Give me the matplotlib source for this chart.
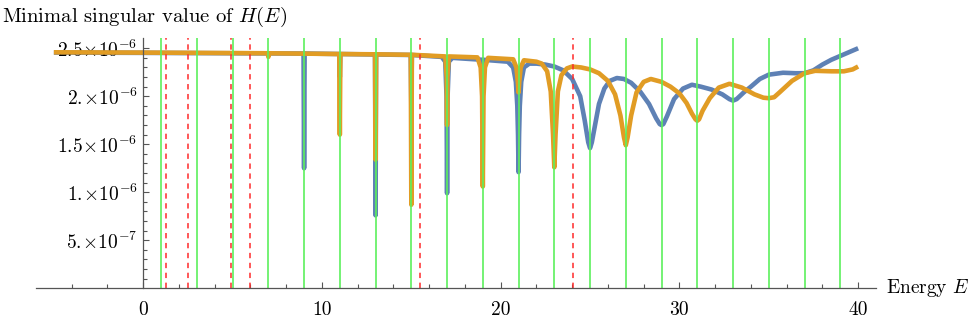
from matplotlib import pyplot as pl

# Minimal singular value of H(E) (units of 1e-6)
blue_E = [-5, 0, 5, 8.97, 9.0, 9.03, 10.97, 11.0, 11.03, 12.97, 13.0, 13.03,
          14.97, 15.0, 15.03, 16.7, 16.9, 16.97, 17.0, 17.03, 17.1, 17.3,
          18.97, 19.0, 19.03, 20.4, 20.7, 20.85, 20.93, 20.97, 21.0, 21.03,
          21.07, 21.15, 21.3, 21.6, 22.0, 22.5, 23.0, 23.5, 24.0, 24.45, 24.7,
          24.9, 25.0, 25.1, 25.3, 25.5, 25.8, 26.1, 26.5, 26.9, 27.3, 27.8,
          28.3, 28.7, 28.9, 29.0, 29.1, 29.3, 29.7, 30.2, 30.7, 31.2, 31.8,
          32.4, 32.8, 33.0, 33.2, 33.6, 34.0, 34.5, 35.0, 35.8, 36.5, 37.0,
          37.5, 38.0, 38.5, 39.0, 39.5, 40.0]
blue_sv = [2.455, 2.452, 2.448, 2.445, 1.25, 2.445, 2.44, 2.2, 2.44, 2.435,
           0.76, 2.435, 2.43, 1.9, 2.43, 2.41, 2.36, 2.0, 0.99, 2.0, 2.36, 2.40,
           2.38, 2.1, 2.38, 2.36, 2.30, 2.15, 1.9, 1.6, 1.21, 1.6,
           1.9, 2.15, 2.30, 2.34, 2.34, 2.33, 2.31, 2.27, 2.18, 2.0, 1.75,
           1.52, 1.46, 1.52, 1.72, 1.92, 2.08, 2.16, 2.19, 2.18, 2.14, 2.05,
           1.92, 1.77, 1.71, 1.70, 1.71, 1.79, 1.97, 2.08, 2.12, 2.10, 2.07,
           2.02, 1.97, 1.955, 1.97, 2.04, 2.10, 2.18, 2.225, 2.245, 2.24, 2.24,
           2.27, 2.33, 2.38, 2.42, 2.46, 2.50]

orange_E = [-5, 0, 5, 6.97, 7.0, 7.03, 10.97, 11.0, 11.03, 12.97, 13.0, 13.03,
            14.97, 15.0, 15.03, 16.9, 16.98, 17.0, 17.02, 17.1, 18.7, 18.88,
            18.96, 19.0, 19.04, 19.12, 19.3, 20.7, 20.88, 20.96, 21.0, 21.04,
            21.12, 21.3, 22.0, 22.3, 22.6, 22.8, 22.93, 23.0, 23.07, 23.2,
            23.4, 23.7, 24.0, 24.5, 25.0, 25.5, 26.0, 26.4, 26.7, 26.9, 27.0,
            27.1, 27.3, 27.6, 28.0, 28.4, 29.0, 29.5, 30.0, 30.4, 30.7, 30.9,
            31.0, 31.1, 31.3, 31.7, 32.2, 32.8, 33.5, 34.2, 34.7, 35.0, 35.3,
            35.6, 36.3, 37.0, 37.6, 38.5, 39.2, 39.7, 40.0]
orange_sv = [2.458, 2.455, 2.45, 2.448, 2.41, 2.448, 2.44, 1.60, 2.44, 2.437,
             1.34, 2.437, 2.432, 0.87, 2.432, 2.415, 2.2, 1.70, 2.2, 2.415,
             2.405, 2.3, 2.0, 1.06, 2.0, 2.3, 2.40, 2.385, 2.3, 2.15, 2.04,
             2.15, 2.3, 2.375, 2.36, 2.34, 2.26, 2.05, 1.6, 1.26, 1.6, 2.05,
             2.22, 2.29, 2.31, 2.30, 2.28, 2.24, 2.16, 2.02, 1.8, 1.57, 1.49,
             1.57, 1.8, 2.04, 2.15, 2.18, 2.15, 2.10, 2.03, 1.93, 1.82, 1.76,
             1.745, 1.76, 1.85, 1.98, 2.09, 2.13, 2.09, 2.02, 1.985, 1.98, 1.99,
             2.04, 2.16, 2.24, 2.265, 2.26, 2.26, 2.28, 2.31]

green_E = list(range(1, 40, 2))
red_E = [1.27, 2.51, 4.9, 5.98, 15.46, 24.03]

y_ticks = [5e-7, 1e-6, 1.5e-6, 2e-6, 2.5e-6]
y_labels = [r'$5.\!\!\times\!10^{-7}$', r'$1.\!\!\times\!10^{-6}$',
            r'$1.5\!\times\!10^{-6}$', r'$2.\!\!\times\!10^{-6}$',
            r'$2.5\!\times\!10^{-6}$']
x_ticks = [0, 10, 20, 30, 40]

pl.rcParams['mathtext.fontset'] = 'cm'
pl.rcParams['font.family'] = 'serif'
pl.rcParams['font.serif'] = ['cmr10', 'DejaVu Serif']
pl.rcParams['axes.unicode_minus'] = False

fig = pl.figure(figsize=(9.72, 3.22), dpi=100)
ax = fig.add_axes([36/972, 33.7/322, 840/972, 250.6/322])

ax.plot(blue_E, [v*1e-6 for v in blue_sv], color='#5E81B5', lw=3.3,
        solid_joinstyle='round', solid_capstyle='butt', clip_on=False,
        zorder=1.5)
ax.plot(orange_E, [v*1e-6 for v in orange_sv], color='#E19C24', lw=3.3,
        solid_joinstyle='round', solid_capstyle='butt', clip_on=False,
        zorder=1.6)

for e in green_E:
    ax.axvline(e, color='#5cf05c', lw=1.2, zorder=1.8)
for e in red_E:
    ax.axvline(e, color='#ff2a2a', lw=1.1, ls=(0, (3.5, 3)), zorder=1.8)

ax.set_xlim(-6, 41)
ax.set_ylim(0, 2.61e-6)

for s in ['top', 'right']:
    ax.spines[s].set_visible(False)
ax.spines['left'].set_position(('data', 0))
ax.spines['bottom'].set_position(('data', 0))
for s in ['left', 'bottom']:
    ax.spines[s].set_color('#555555')
    ax.spines[s].set_linewidth(0.9)

ax.set_xticks(x_ticks)
ax.set_xticklabels([str(t) for t in x_ticks])
ax.set_xticks([t for t in range(-4, 41, 2) if t % 10 != 0], minor=True)
ax.set_yticks(y_ticks)
ax.set_yticklabels(y_labels)
ax.set_yticks([k*1e-7 for k in range(1, 26) if k % 5 != 0], minor=True)

ax.tick_params(which='both', direction='in', color='#555555', width=0.8,
               labelsize=14)
ax.tick_params(which='major', length=4.5)
ax.tick_params(which='minor', length=3)
ax.tick_params(axis='x', pad=9)
ax.tick_params(axis='y', pad=4)

fig.text(0.002, 1 - 17/322, r'Minimal singular value of $H(E)$', fontsize=14.8,
         va='center', ha='left')
fig.text(886/972, 1 - 288/322, r'Energy $E$', fontsize=14, va='center',
         ha='left')

fig.savefig('out.png', dpi=100)
